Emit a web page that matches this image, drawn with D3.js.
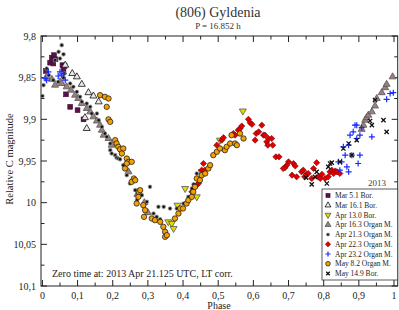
<!DOCTYPE html>
<html><head><meta charset="utf-8">
<script src="https://cdn.jsdelivr.net/npm/d3@7"></script>
<style>body{margin:0;background:#fff}svg{display:block}text{font-family:"Liberation Serif","Times New Roman",serif}</style>
</head><body><div id="chart"></div>
<script>
// ---- data ----
const title = "(806) Gyldenia";
const subtitle = "P = 16.852 h";
const xTicks = [0,0.1,0.2,0.3,0.4,0.5,0.6,0.7,0.8,0.9,1];
const yTicks = [9.8,9.85,9.9,9.95,10,10.05,10.1];
const seriesNames = ["Mar 5.1 Bor.","Mar 16.1 Bor.","Apr 13.0 Bor.","Apr 16.3 Organ M.","Apr 21.3 Organ M.","Apr 22.3 Organ M.","Apr 23.2 Organ M.","May 8.2 Organ M.","May 14.9 Bor."];
const mar05 = [[0.027,9.826],[0.033,9.823],[0.037,9.828],[0.022,9.832],[0.031,9.833],[0.057,9.835],[0.063,9.836],[0.06,9.84],[0.01,9.842],[0.067,9.87],[0.079,9.885],[0.1,9.889],[0.117,9.9]];
const mar16 = [[0.065,9.835],[0.085,9.845],[0.098,9.849],[0.112,9.858],[0.131,9.868],[0.145,9.872],[0.16,9.879],[0.121,9.898],[0.126,9.911]];
const apr13 = [[0.57,9.89],[0.505,9.925],[0.453,9.963],[0.406,9.983],[0.439,9.993],[0.384,10.003],[0.358,10.023],[0.368,10.025],[0.373,10.031]];
const apr16 = [[0.012,9.849],[0.027,9.852],[0.036,9.859],[0.05,9.855],[0.055,9.857],[0.069,9.861],[0.081,9.865],[0.093,9.871],[0.102,9.875],[0.112,9.881],[0.126,9.887],[0.136,9.891],[0.145,9.897],[0.155,9.902],[0.164,9.907],[0.169,9.913],[0.174,9.919],[0.188,9.923],[0.197,9.931],[0.245,9.963],[0.27,9.99],[0.29,10.0],[0.3,10.012],
  [0.908,9.912],[0.913,9.907],[0.918,9.901],[0.922,9.898],[0.927,9.895],[0.937,9.891],[0.946,9.884],[0.951,9.875],[0.965,9.868],[0.975,9.862],[0.979,9.858],[0.996,9.849]];
const apr21 = [[0.0,9.872],[0.003,9.859],[0.012,9.839],[0.018,9.847],[0.031,9.853],[0.036,9.829],[0.046,9.819],[0.05,9.827],[0.055,9.811],[0.06,9.822],[0.045,9.855],[0.06,9.85],[0.063,9.845],[0.079,9.857],[0.088,9.861],[0.098,9.867],[0.107,9.873],[0.112,9.879],[0.126,9.881],[0.136,9.885],[0.14,9.893],[0.155,9.893],[0.16,9.901],[0.169,9.909],[0.178,9.917],[0.183,9.921],[0.193,9.929],[0.193,9.937],[0.197,9.941],[0.207,9.943],[0.211,9.946],[0.216,9.947],[0.221,9.948],[0.23,9.955],[0.24,9.967],[0.249,9.977],[0.264,9.985],[0.269,9.997],[0.273,9.985],[0.283,9.991],[0.297,9.999],[0.306,9.981],[0.316,10.013],[0.325,10.017],[0.335,10.02],[0.33,10.005],[0.345,10.005],[0.363,10.007],[0.382,10.007],[0.401,10.001],[0.415,9.993],[0.425,9.983],[0.43,9.978],[0.439,9.965]];
const apr22 = [[0.425,9.987],[0.439,9.979],[0.444,9.977],[0.453,9.961],[0.458,9.953],[0.462,9.961],[0.496,9.931],[0.51,9.925],[0.515,9.922],[0.543,9.917],[0.548,9.919],[0.557,9.913],[0.562,9.911],[0.567,9.908],[0.586,9.9],[0.591,9.904],[0.596,9.906],[0.624,9.907],[0.608,9.917],[0.615,9.915],[0.605,9.925],[0.629,9.919],[0.633,9.919],[0.638,9.927],[0.643,9.923],[0.652,9.923],[0.641,9.931],[0.655,9.931],[0.664,9.945],[0.673,9.945],[0.7,9.951],[0.695,9.955],[0.714,9.953],[0.719,9.956],[0.69,9.958],[0.685,9.959],[0.71,9.967],[0.723,9.969],[0.737,9.963],[0.742,9.961],[0.746,9.969],[0.751,9.966],[0.756,9.965],[0.766,9.971],[0.771,9.959],[0.78,9.952],[0.785,9.969],[0.79,9.971],[0.795,9.966],[0.804,9.971],[0.813,9.969],[0.818,9.963],[0.823,9.961],[0.828,9.965],[0.833,9.962],[0.838,9.963],[0.846,9.965]];
const apr23 = [[0.008,9.851],[0.017,9.843],[0.012,9.853],[0.05,9.843],[0.055,9.847],[0.06,9.845],[0.065,9.853],[0.045,9.848],
  [0.998,9.868],[0.989,9.869],[0.979,9.876],[0.889,9.907],[0.894,9.907],[0.908,9.91],[0.884,9.915],[0.903,9.919],[0.894,9.923],[0.875,9.919],[0.937,9.921],[0.856,9.933],[0.871,9.931],[0.861,9.943],[0.88,9.943],[0.903,9.943],[0.851,9.951],[0.842,9.951],[0.898,9.953],[0.866,9.957],[0.846,9.961],[0.871,9.963]];
const may08 = [[0.164,9.871],[0.178,9.873],[0.188,9.875],[0.183,9.885],[0.188,9.9],[0.193,9.903],[0.207,9.925],[0.211,9.929],[0.216,9.933],[0.221,9.936],[0.23,9.935],[0.24,9.947],[0.245,9.951],[0.235,9.959],[0.226,9.941],[0.24,9.953],[0.254,9.951],[0.26,9.971],[0.254,9.975],[0.264,9.973],[0.274,9.987],[0.278,9.985],[0.273,9.993],[0.268,10.001],[0.287,10.003],[0.292,10.009],[0.289,10.017],[0.311,10.019],[0.32,10.021],[0.335,10.023],[0.344,10.029],[0.349,10.035],[0.349,10.041],[0.354,10.039],[0.377,10.019],[0.387,10.013],[0.392,10.007],[0.4,10.007],[0.41,10.001],[0.415,9.997],[0.425,9.993],[0.429,9.987],[0.434,9.981],[0.439,9.971],[0.448,9.973],[0.453,9.967],[0.463,9.965],[0.472,9.959],[0.477,9.955],[0.486,9.943],[0.496,9.939],[0.505,9.935],[0.519,9.937],[0.524,9.933],[0.534,9.929],[0.548,9.929],[0.553,9.931],[0.538,9.919],[0.562,9.917],[0.572,9.923]];
const may14 = [[0.97,9.901],[0.979,9.915],[0.937,9.907],[0.932,9.902],[0.946,9.877],[0.894,9.925],[0.871,9.929],[0.856,9.935],[0.88,9.943],[0.846,9.951],[0.823,9.952],[0.818,9.953],[0.813,9.957],[0.78,9.963],[0.775,9.969],[0.809,9.977],[0.766,9.978],[0.75,9.97]];
const allSeries = [mar05, mar16, apr13, apr16, apr21, apr22, apr23, may08, may14];

// ---- styles ----
const styles = [
  {type:"square", fill:"#5a1248", stroke:"#3a0a2e"},
  {type:"tri", fill:"#e8e8e8", stroke:"#111"},
  {type:"itri", fill:"#e0dc00", stroke:"#555"},
  {type:"tri", fill:"#9c8080", stroke:"#555"},
  {type:"dot", fill:"#111", stroke:"#999"},
  {type:"diamond", fill:"#e00000", stroke:"#700"},
  {type:"plus", fill:"none", stroke:"#1a2cff"},
  {type:"circle", fill:"#f5a000", stroke:"#222"},
  {type:"cross", fill:"none", stroke:"#111"}
];

const W = 399, H = 310;
const svg = d3.select("#chart").append("svg").attr("width", W).attr("height", H);
const x = d3.scaleLinear().domain([-0.004, 1.0105]).range([41, 397.7]);
const y = d3.scaleLinear().domain([9.8, 10.1]).range([36, 286]);

function drawMarker(g, st, px, py, scale) {
  const s = scale || 1;
  if (st.type === "square") {
    g.append("rect").attr("x", px-2.4*s).attr("y", py-2.4*s).attr("width",4.8*s).attr("height",4.8*s).attr("fill",st.fill).attr("stroke",st.stroke).attr("stroke-width",0.6);
  } else if (st.type === "tri" || st.type === "itri") {
    const p = d3.symbol().type(d3.symbolTriangle).size(21*s*s)();
    g.append("path").attr("d",p).attr("transform",`translate(${px},${py})${st.type==="itri"?" rotate(180)":""}`).attr("fill",st.fill).attr("stroke",st.stroke).attr("stroke-width",0.8);
  } else if (st.type === "dot") {
    g.append("circle").attr("cx",px).attr("cy",py).attr("r",1.8*s).attr("fill",st.fill).attr("stroke",st.stroke).attr("stroke-width",1.1).attr("stroke-opacity",0.7);
  } else if (st.type === "diamond") {
    const r = 3.1*s;
    g.append("path").attr("d",`M${px},${py-r}L${px+r},${py}L${px},${py+r}L${px-r},${py}Z`).attr("fill",st.fill).attr("stroke",st.stroke).attr("stroke-width",0.6);
  } else if (st.type === "plus") {
    const r = 3.0*s;
    g.append("path").attr("d",`M${px-r},${py}H${px+r}M${px},${py-r}V${py+r}`).attr("stroke",st.stroke).attr("stroke-width",1.2).attr("fill","none");
  } else if (st.type === "circle") {
    g.append("circle").attr("cx",px).attr("cy",py).attr("r",2.7*s).attr("fill",st.fill).attr("stroke",st.stroke).attr("stroke-width",0.8);
  } else if (st.type === "cross") {
    const r = 2.1*s;
    g.append("path").attr("d",`M${px-r},${py-r}L${px+r},${py+r}M${px-r},${py+r}L${px+r},${py-r}`).attr("stroke",st.stroke).attr("stroke-width",1.3).attr("fill","none");
  }
}

// frame & ticks
const frame = svg.append("g");
const L = 41, R = 397.7, T = 36, B = 286;
frame.append("rect").attr("x",L).attr("y",T).attr("width",R-L).attr("height",B-T).attr("fill","none").attr("stroke","#222").attr("stroke-width",1);

const xMinor = d3.range(0, 1.0001, 0.05);
xMinor.forEach((v,i) => {
  const len = (i % 2 === 0) ? 6 : 3.5;
  const px = x(v);
  frame.append("line").attr("x1",px).attr("x2",px).attr("y1",B).attr("y2",B-len).attr("stroke","#222");
  frame.append("line").attr("x1",px).attr("x2",px).attr("y1",T).attr("y2",T+len).attr("stroke","#222");
});
const yMinor = d3.range(9.8, 10.1001, 0.025);
yMinor.forEach((v,i) => {
  const len = (i % 2 === 0) ? 6 : 3.5;
  const py = y(v);
  frame.append("line").attr("x1",L).attr("x2",L+len).attr("y1",py).attr("y2",py).attr("stroke","#222");
  frame.append("line").attr("x1",R).attr("x2",R-len).attr("y1",py).attr("y2",py).attr("stroke","#222");
});
const fmt = v => String(+v.toFixed(2)).replace(".", ",");
svg.append("g").selectAll("text").data(xTicks).join("text")
  .attr("x", d => x(d)).attr("y", 299).attr("text-anchor","middle").attr("font-size","10px").attr("fill","#222").text(fmt);
svg.append("g").selectAll("text").data(yTicks).join("text")
  .attr("x", 36).attr("y", d => y(d)+3.5).attr("text-anchor","end").attr("font-size","10px").attr("fill","#222").text(fmt);

svg.append("text").attr("x",219).attr("y",308.5).attr("text-anchor","middle").attr("font-size","10px").attr("fill","#222").text("Phase");
svg.append("text").attr("transform","translate(13,159) rotate(-90)").attr("text-anchor","middle").attr("font-size","10.5px").attr("fill","#222").text("Relative C magnitude");
svg.append("text").attr("x",218).attr("y",17).attr("text-anchor","middle").attr("font-size","14px").attr("fill","#333").text(title);
svg.append("text").attr("x",218).attr("y",28.5).attr("text-anchor","middle").attr("font-size","9px").attr("fill","#333").text(subtitle);
svg.append("text").attr("x",52).attr("y",277).attr("font-size","10px").attr("fill","#222").text("Zero time at: 2013 Apr 21.125 UTC, LT corr.");
svg.append("text").attr("x",386).attr("y",186).attr("text-anchor","end").attr("font-size","9px").attr("fill","#444").text("2013");

// points
const pts = svg.append("g");
allSeries.forEach((ser, i) => {
  const g = pts.append("g");
  ser.forEach(d => drawMarker(g, styles[i], x(d[0]), y(d[1])));
});

// legend
const lg = svg.append("g");
lg.append("rect").attr("x",322).attr("y",189).attr("width",R-322).attr("height",91).attr("fill","#fff").attr("stroke","#333").attr("stroke-width",0.8);
seriesNames.forEach((n,i) => {
  const cy = 195.5 + i*9.75;
  drawMarker(lg, styles[i], 328, cy, 0.85);
  lg.append("text").attr("x",335).attr("y",cy+2.6).attr("font-size","7.5px").attr("fill","#222").text(n);
});
</script></body></html>
